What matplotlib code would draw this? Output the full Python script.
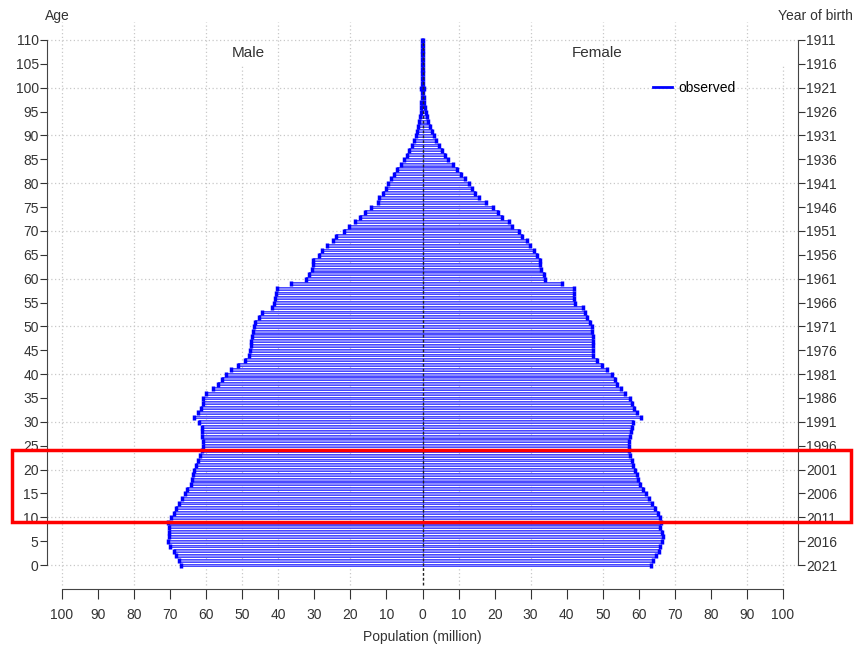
import matplotlib.pyplot as plt
from matplotlib.lines import Line2D
from matplotlib.patches import Rectangle

plt.rcParams['font.family'] = ['Liberation Sans', 'DejaVu Sans']

ages = list(range(0, 111))

# population by single year of age, million
male = [67.0, 67.5, 68.4, 69.0, 70.0, 70.5, 70.4, 70.3, 70.2, 70.6,
        69.9, 69.0, 68.4, 67.5, 66.6, 65.9, 65.3, 64.3, 63.8, 63.6,
        63.4, 62.9, 62.4, 61.7, 61.3, 61.0, 61.0, 61.2, 61.3, 61.3,
        62.0, 63.5, 62.3, 61.5, 61.0, 60.8, 60.0, 58.2, 56.7, 55.5,
        54.6, 53.0, 51.2, 49.3, 48.2, 47.8, 47.6, 47.6, 47.4, 47.0,
        46.8, 46.4, 45.4, 44.4, 41.8, 41.3, 41.0, 40.5, 40.3, 36.6,
        32.2, 31.6, 30.6, 30.3, 30.3, 28.6, 27.8, 26.4, 24.8, 24.1,
        21.9, 20.5, 18.7, 17.3, 15.9, 14.4, 12.4, 12.0, 11.0, 10.2,
        9.5, 8.6, 7.8, 7.0, 6.1, 5.2, 4.4, 3.7, 3.0, 2.4,
        1.9, 1.5, 1.2, 0.9, 0.7, 0.5, 0.4, 0.3, 0.2, 0.15,
        0.4, 0.05, 0.05, 0.05, 0.05, 0.05, 0.05, 0.05, 0.05, 0.05, 0.05]
female = [63.3, 63.8, 64.8, 65.5, 66.0, 66.5, 66.6, 66.4, 66.0, 66.2,
          66.0, 65.2, 64.5, 63.6, 62.7, 61.9, 61.1, 60.4, 59.9, 59.5,
          59.0, 58.5, 58.0, 57.5, 57.2, 57.3, 57.3, 57.5, 57.7, 58.0,
          58.5, 60.5, 59.6, 58.6, 58.0, 57.6, 56.3, 55.0, 54.0, 53.5,
          52.5, 51.3, 49.8, 48.3, 47.4, 47.2, 47.2, 47.3, 47.2, 47.1,
          47.0, 46.6, 45.7, 45.2, 44.6, 42.4, 42.0, 41.9, 41.9, 38.7,
          34.0, 33.6, 33.0, 32.7, 32.7, 31.8, 31.0, 29.9, 29.0, 27.6,
          26.7, 24.9, 24.0, 22.0, 20.9, 19.5, 17.7, 15.8, 14.6, 13.7,
          12.8, 11.8, 10.7, 9.6, 8.4, 7.2, 6.2, 5.3, 4.5, 3.7,
          3.1, 2.5, 2.0, 1.6, 1.2, 0.9, 0.7, 0.5, 0.35, 0.25,
          0.5, 0.05, 0.05, 0.05, 0.05, 0.05, 0.05, 0.05, 0.05, 0.05, 0.05]

census_year = 2021
age_ticks = list(range(0, 111, 5))
pop_ticks = list(range(-100, 101, 10))

fig = plt.figure(figsize=(8.61, 6.53), dpi=100)
ax = fig.add_axes([47/861, 1 - 588.9/653, 751/861, 572.8/653])
ax.set_xlim(-104.16, 104.16)
ax.set_ylim(-5, 115)

# grid (dotted), odd layout copied from the original
grid_kw = dict(colors='#c8c8c8', linestyles=(0, (1, 2)), linewidth=0.9, zorder=0)
ax.hlines(range(0, 111, 10), -104.16, 104.16, **grid_kw)
ax.vlines([-100, -80, -60, -40, -20, 10, 30, 50, 70, 90], -4.2, 113.8, **grid_kw)
ax.vlines([-50, 100], -4.2, 104.8, **grid_kw)

neg_male = [-m for m in male]
ax.barh(ages, neg_male, height=0.6, color='#8c8cff', edgecolor='#3333ff', linewidth=0.6, zorder=2)
ax.barh(ages, female, height=0.6, color='#8c8cff', edgecolor='#3333ff', linewidth=0.6, zorder=2)

cap = [(0, -1), (0, 1)]
ax.plot(neg_male, ages, ls='none', marker=cap, markersize=3.6, markeredgewidth=2.5, color='blue', zorder=3)
ax.plot(female, ages, ls='none', marker=cap, markersize=3.6, markeredgewidth=2.5, color='blue', zorder=3)

ax.vlines(0, -4.2, 110, colors='#222222', linestyles=(0, (2, 1.5)), linewidth=1, zorder=4)

for side in ['top', 'right']:
    ax.spines[side].set_visible(False)
ax.spines['left'].set_bounds(0, 110)
ax.spines['bottom'].set_bounds(-100, 100)
ax.spines['left'].set_color('#444444')
ax.spines['bottom'].set_color('#444444')

ax.set_yticks(age_ticks)
ax.set_yticklabels([str(a) for a in age_ticks])
ax.set_xticks(pop_ticks)
ax.set_xticklabels([str(abs(p)) for p in pop_ticks])
ax.tick_params(axis='y', length=5, pad=1, labelsize=10, colors='#333333')
ax.tick_params(axis='x', length=7, pad=7, labelsize=10, colors='#333333')

ax2 = ax.twinx()
ax2.set_ylim(-5, 115)
for side in ['top', 'left', 'bottom']:
    ax2.spines[side].set_visible(False)
ax2.spines['right'].set_bounds(0, 110)
ax2.spines['right'].set_color('#444444')
ax2.set_yticks(age_ticks)
ax2.set_yticklabels([str(census_year - a) for a in age_ticks])
ax2.tick_params(axis='y', length=5, pad=1, labelsize=10, colors='#333333')

ax.text(-48.2, 107.3, 'Male', ha='center', va='center', fontsize=11, color='#333333')
ax.text(48.5, 107.3, 'Female', ha='center', va='center', fontsize=11, color='#333333')

fig.text(57/861, 1 - 16/653, 'Age', ha='center', va='center', fontsize=10, color='#333333')
fig.text(815/861, 1 - 16/653, 'Year of birth', ha='center', va='center', fontsize=10, color='#333333')
fig.text(422/861, 1 - 637/653, 'Population (million)', ha='center', va='center', fontsize=10, color='#333333')

handle = Line2D([], [], color='blue', linewidth=2)
ax.legend([handle], ['observed'], loc='center left', bbox_to_anchor=(653/861, 1 - 88/653),
          bbox_transform=fig.transFigure, frameon=False, fontsize=10, handlelength=1.4,
          handletextpad=0.4, borderpad=0, borderaxespad=0)

# red highlight box
fig.patches.append(Rectangle((12/861, 1 - 522/653), 839/861, 72/653, transform=fig.transFigure,
                             fill=False, edgecolor='red', linewidth=2.5, zorder=10))

fig.savefig('out.png', dpi=100)
